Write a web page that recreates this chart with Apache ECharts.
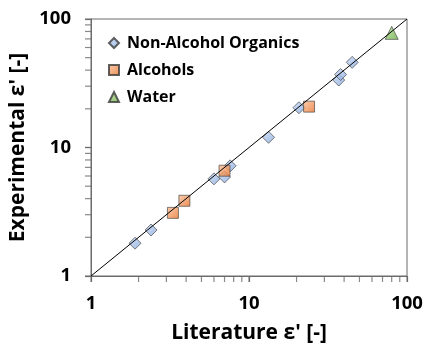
<!DOCTYPE html>
<html><head><meta charset="utf-8">
<script src="https://cdn.jsdelivr.net/npm/echarts@6/dist/echarts.min.js"></script>
<style>html,body{margin:0;padding:0;background:#fff}#c{width:424px;height:345px}</style>
</head><body><div id="c"></div>
<script>
// Literature vs experimental permittivity
const organicsLit = [1.9, 2.4, 6.0, 7.0, 7.6, 13.3, 20.7, 37, 38, 45];
const organicsExp = [1.8, 2.28, 5.7, 5.9, 7.2, 12.0, 20.4, 33.5, 37, 46];
const alcoholsLit = [3.3, 3.9, 7.0, 24];
const alcoholsExp = [3.1, 3.85, 6.6, 20.8];
const waterLit = [80];
const waterExp = [78];
const parityLine = [1, 100];
const tickValues = [1, 2, 3, 4, 5, 6, 7, 8, 9, 10, 20, 30, 40, 50, 60, 70, 80, 90, 100];
const seriesNames = ['Non-Alcohol Organics', 'Alcohols', 'Water'];

const font = '"Open Sans", Lato, sans-serif';
const axisColor = '#6b6b6b';
const zip = (a, b) => a.map((v, i) => [v, b[i]]);
const grad = (c1, c2) => new echarts.graphic.LinearGradient(0, 0, 1, 1, [{offset: 0, color: c1}, {offset: 1, color: c2}]);
const border = {borderColor: '#3a3a3a', borderWidth: 0.8};

function axis(extra) {
  return Object.assign({
    type: 'log', logBase: 10, min: 1, max: 100,
    axisLine: {show: true, lineStyle: {color: axisColor, width: 1}},
    axisTick: {show: true, inside: false, length: 6, lineStyle: {color: axisColor, width: 1.2}},
    minorTick: {show: false},
    splitLine: {show: false},
    nameTextStyle: {color: '#000', fontFamily: font, fontWeight: 'bold', fontSize: 21},
    nameLocation: 'middle'
  }, extra);
}

// tick marks as tiny rect symbols placed via the axis scales
function tickSeries(dir) {
  return {
    type: 'scatter', silent: true, clip: false, z: 6, legendHoverLink: false,
    symbol: 'rect',
    symbolSize: dir === 'x' ? [1.2, 6] : [6, 1.2],
    symbolOffset: dir === 'x' ? [0, 3] : [-3, 0],
    data: tickValues.map(v => dir === 'x' ? [v, 1] : [1, v]),
    itemStyle: {color: axisColor, borderWidth: 0},
    emphasis: {disabled: true}
  };
}

const chart = echarts.init(document.getElementById('c'), null, {renderer: 'canvas'});
chart.setOption({
  animation: false,
  backgroundColor: '#fff',
  grid: {left: 91, right: 17, top: 19, bottom: 69, show: true, borderColor: axisColor, borderWidth: 1,
         containLabel: false, outerBoundsMode: 'none'},
  xAxis: axis({name: "Literature ε' [-]", nameGap: 47,
    axisLabel: {color: '#000', fontFamily: font, fontWeight: 'bold', fontSize: 18.5, margin: 18}}),
  yAxis: axis({name: "Experimental ε' [-]", nameGap: 51,
    axisLabel: {color: '#000', fontFamily: font, fontWeight: 'bold', fontSize: 18.5, margin: 20}}),
  legend: {
    orient: 'vertical', left: 103, top: 30, itemGap: 11, itemWidth: 10, itemHeight: 10,
    data: seriesNames,
    textStyle: {color: '#000', fontFamily: font, fontWeight: 'bold', fontSize: 16, padding: [0, 0, 0, 3]}
  },
  series: [
    tickSeries('x'),
    tickSeries('y'),
    {type: 'line', data: zip(parityLine, parityLine), symbol: 'none', silent: true,
     lineStyle: {color: '#000', width: 1}, z: 5},
    {name: seriesNames[0], type: 'scatter', symbol: 'diamond', symbolSize: 12, z: 3,
     data: zip(organicsLit, organicsExp),
     itemStyle: Object.assign({color: grad('#c6d6f1', '#8aabdf')}, border)},
    {name: seriesNames[1], type: 'scatter', symbol: 'rect', symbolSize: 11, z: 4,
     data: zip(alcoholsLit, alcoholsExp),
     itemStyle: Object.assign({color: grad('#f8c09a', '#e9742a')}, border)},
    {name: seriesNames[2], type: 'scatter', symbol: 'triangle', symbolSize: 13, z: 4,
     data: zip(waterLit, waterExp),
     itemStyle: Object.assign({color: grad('#b2dc96', '#6fae47')}, border)}
  ]
});
</script></body></html>
